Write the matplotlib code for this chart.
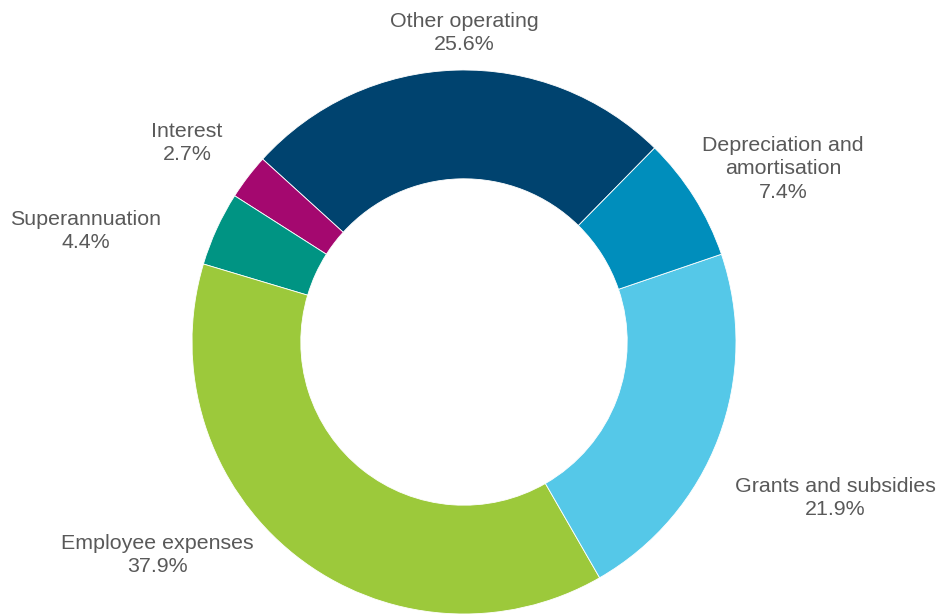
import matplotlib.pyplot as plt

plt.rcParams["font.family"] = ["Liberation Sans", "DejaVu Sans"]

# data, counter-clockwise from the top-right boundary
categories = ["Other operating", "Interest", "Superannuation",
              "Employee expenses", "Grants and subsidies",
              "Depreciation and\namortisation"]
shares = [25.6, 2.7, 4.4, 37.9, 21.9, 7.4]
colors = ["#00436F", "#A4086F", "#009483", "#9CC93B", "#55C8E8", "#008EBC"]

# label block centres in pixels (x, y from top)
label_pos = [(464, 33), (187, 143), (86, 231), (157, 555),
             (835, 498), (783, 169)]

W, H = 939, 615
fig = plt.figure(figsize=(W / 100, H / 100), dpi=100)
cx, cy, r = 464, 342, 272
ax = fig.add_axes([(cx - r) / W, (H - cy - r) / H, 2 * r / W, 2 * r / H])
ax.pie(shares, colors=colors, startangle=45.5, counterclock=True,
       radius=1, wedgeprops=dict(width=0.4, edgecolor="white", linewidth=0.6))
ax.set_xlim(-1, 1)
ax.set_ylim(-1, 1)
ax.set_aspect("equal")
ax.axis("off")

for name, share, (px, py) in zip(categories, shares, label_pos):
    fig.text(px / W, 1 - py / H, "{}\n{:.1f}%".format(name, share),
             ha="center", va="center", fontsize=15.4, color="#595959",
             linespacing=1.3)

plt.savefig("out.png", dpi=100)
